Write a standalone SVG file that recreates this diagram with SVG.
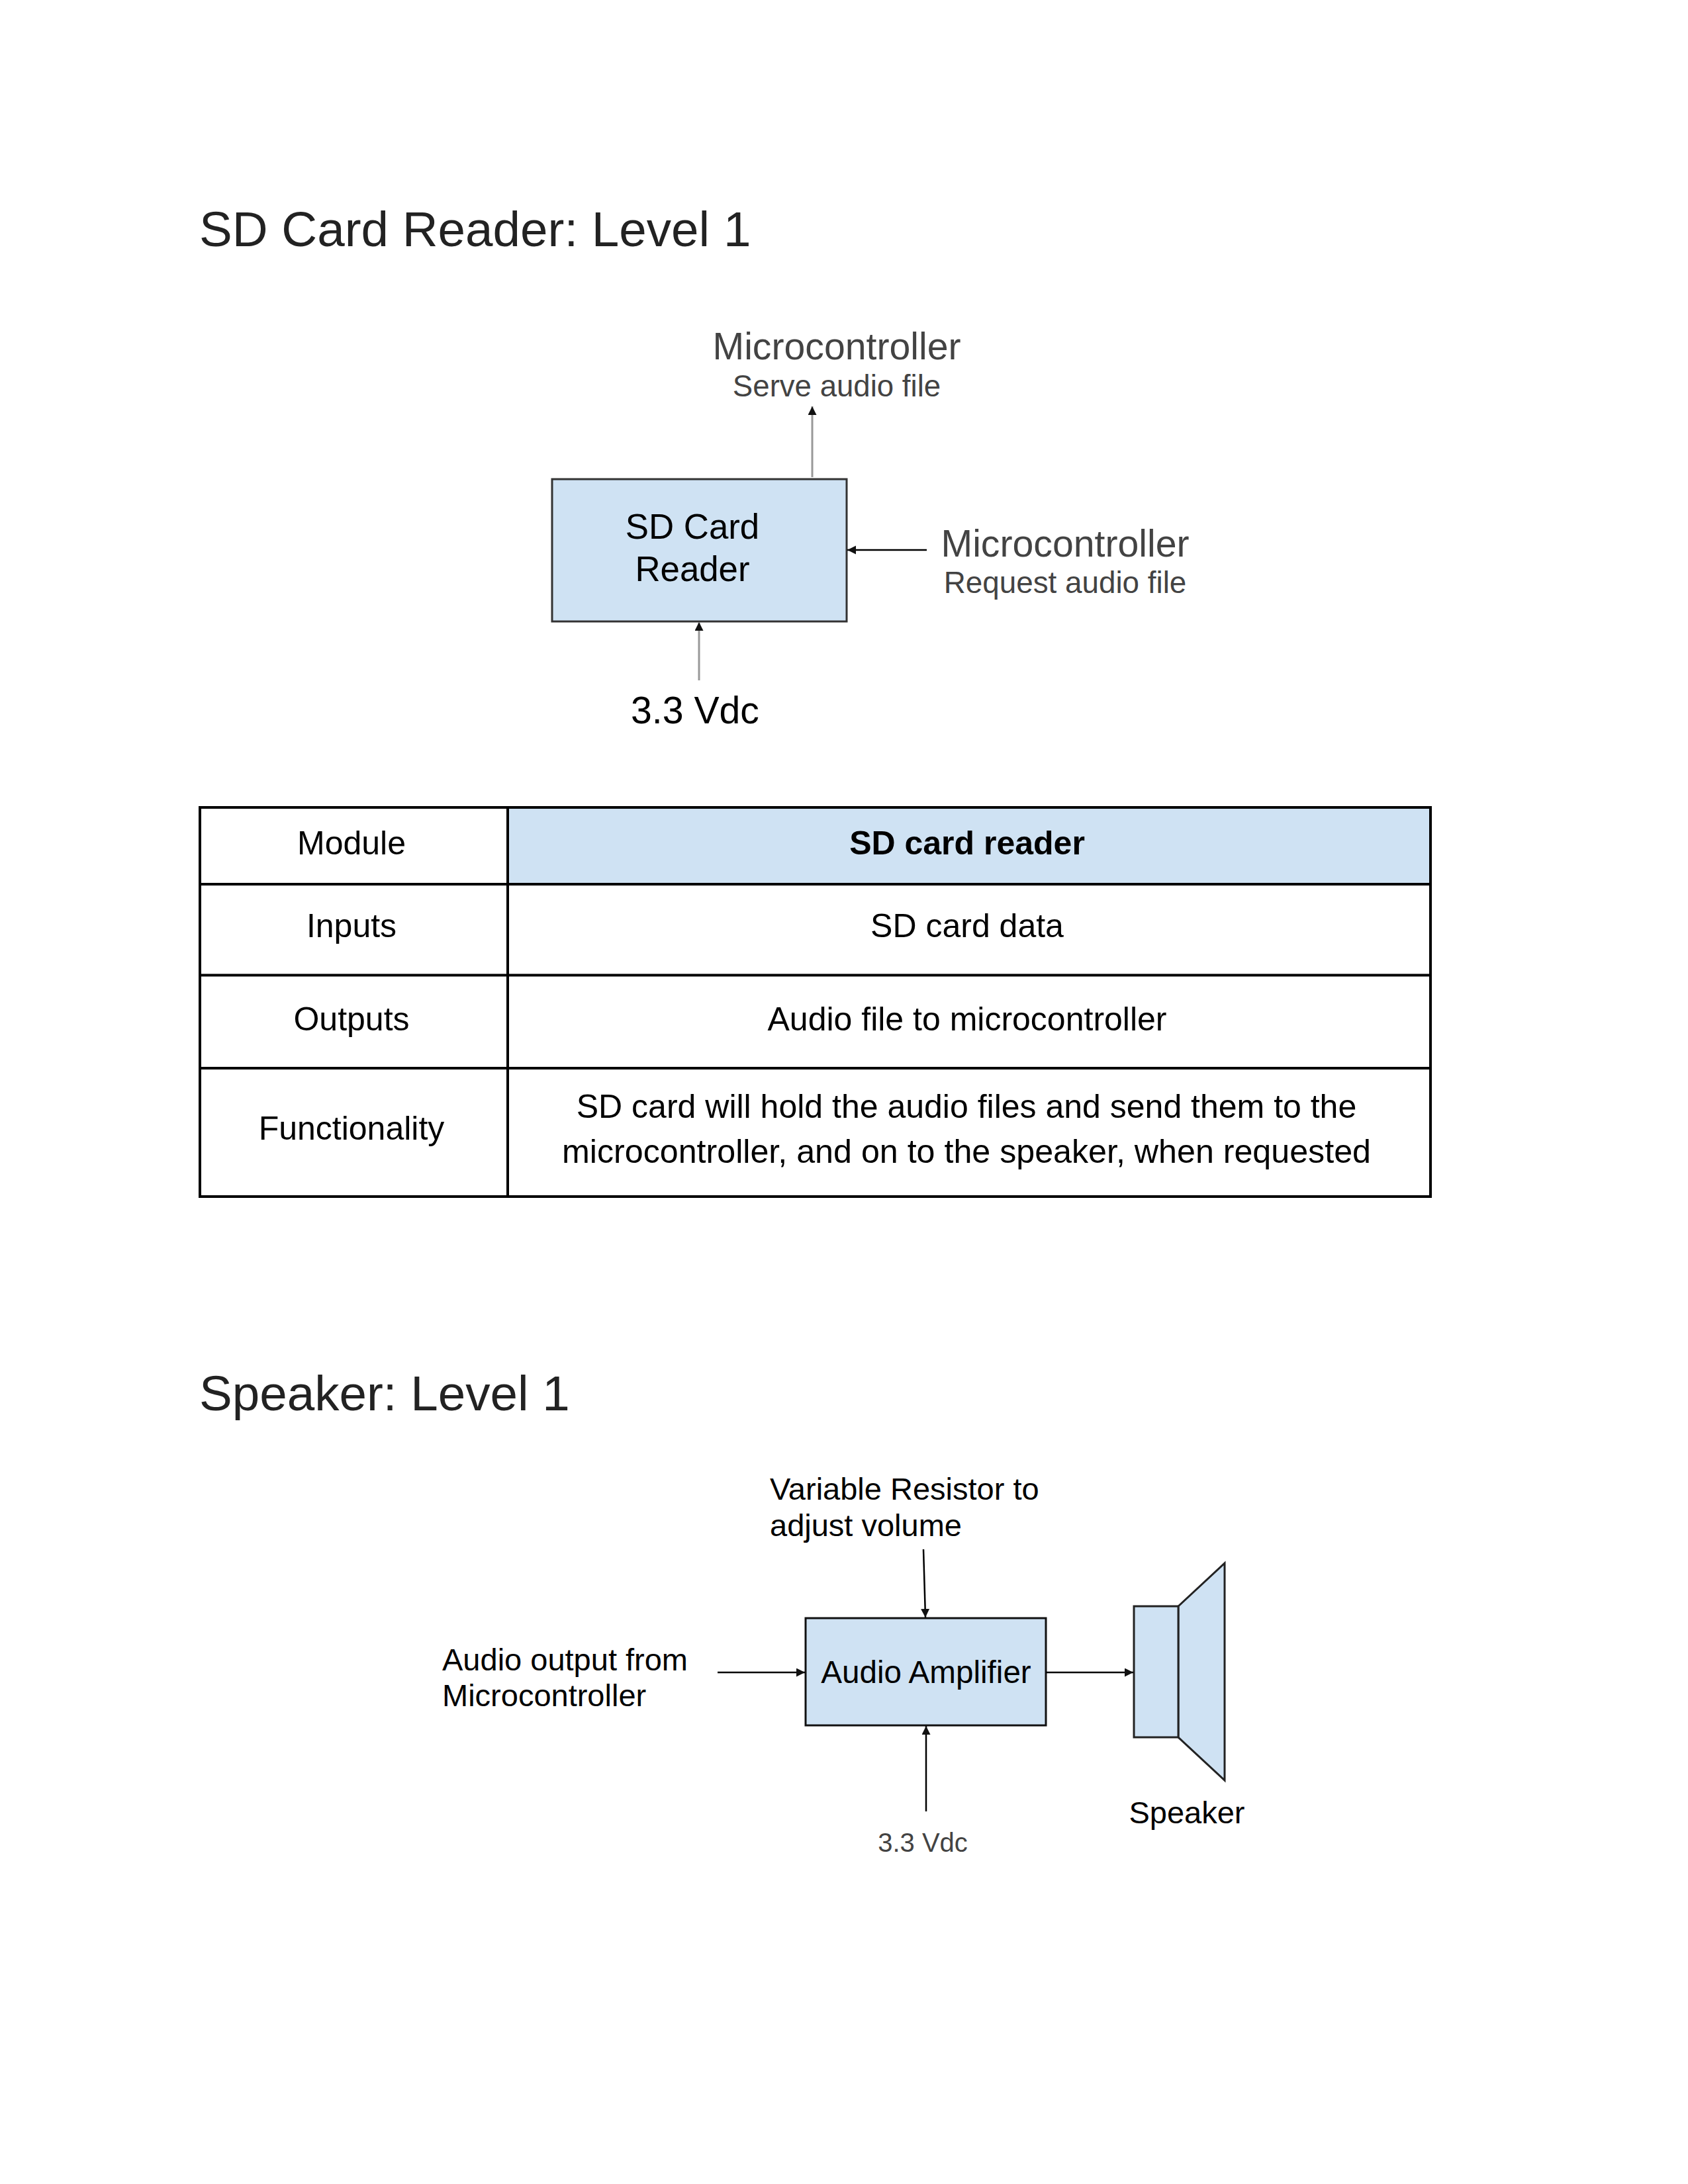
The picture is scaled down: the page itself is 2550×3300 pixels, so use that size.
<svg xmlns="http://www.w3.org/2000/svg" width="2550" height="3300" viewBox="0 0 2550 3300">
<style>
text{font-family:"Liberation Sans",Arial,sans-serif;fill:#000}
.t{font-size:74.600px;fill:#222}
.c{font-size:50px;text-anchor:middle}
.d{font-size:47px}
.g{fill:#434343}
.m{text-anchor:middle}
.box{fill:#cfe2f3;stroke:#333;stroke-width:3}
.tb{stroke:#000;stroke-width:4;fill:none}
.a{stroke:#000;stroke-width:2.5;fill:none;marker-end:url(#ah)}
.ag{stroke:#999;stroke-width:3;fill:none;marker-end:url(#ah)}
</style>
<defs><marker id="ah" markerUnits="userSpaceOnUse" markerWidth="14" markerHeight="14" refX="13" refY="6.5" orient="auto"><path d="M0 0L13 6.500L0 13Z" fill="#111"/></marker></defs>
<rect width="2550" height="3300" fill="#fff"/>
<text class="t" x="301" y="372">SD Card Reader: Level 1</text>
<text class="t" x="301" y="2131">Speaker: Level 1</text>
<g id="sd-card-reader"><rect class="box" x="834" y="724" width="445" height="215"/>
<text class="m" font-size="52.800" x="1046" y="814">SD Card</text><text class="m" font-size="52.800" x="1046" y="878">Reader</text></g>
<g id="mcu-serve"><text class="m g" font-size="57.200" x="1264" y="543">Microcontroller</text><text class="m g" font-size="45.600" x="1264" y="599">Serve audio file</text></g>
<g id="mcu-request"><text class="m g" font-size="57.200" x="1609" y="841">Microcontroller</text><text class="m g" font-size="45.800" x="1609" y="896">Request audio file</text></g>
<g id="vdc-1"><text class="m" font-size="57.200" x="1050" y="1093">3.3 Vdc</text></g>
<g id="table">
<rect x="767" y="1220" width="1394" height="116" fill="#cfe2f3"/>
<path class="tb" d="M302 1220H2161V1808H302ZM767 1220V1808M302 1336H2161M302 1473.500H2161M302 1614H2161"/>
<text class="c" x="531" y="1291">Module</text>
<text class="c" x="1461" y="1291" font-weight="700">SD card reader</text>
<text class="c" x="531" y="1416">Inputs</text>
<text class="c" x="1461" y="1416">SD card data</text>
<text class="c" x="531" y="1557">Outputs</text>
<text class="c" x="1461" y="1557">Audio file to microcontroller</text>
<text class="c" x="531" y="1722">Functionality</text>
<text class="c" x="1460" y="1689">SD card will hold the audio files and send them to the</text>
<text class="c" x="1460" y="1757" style="font-size:50.200px">microcontroller, and on to the speaker, when requested</text>
</g>
<g id="audio-amplifier"><rect class="box" style="stroke:#111" x="1217" y="2445" width="363" height="162"/><text class="d m" style="font-size:47.600px" x="1399" y="2543">Audio Amplifier</text></g>
<g id="speaker">
<path class="box" style="stroke:#222" d="M1780 2427L1850 2362V2690L1780 2625Z"/>
<rect class="box" style="stroke:#222" x="1713" y="2427" width="67" height="198"/>
<text class="d m" x="1793" y="2755">Speaker</text></g>
<g id="var-resistor"><text class="d" x="1163" y="2266">Variable Resistor to</text><text class="d" x="1163" y="2321">adjust volume</text></g>
<g id="audio-out"><text class="d" x="668" y="2524">Audio output from</text><text class="d" x="668" y="2578">Microcontroller</text></g>
<g id="vdc-2"><text class="m g" font-size="40" x="1394" y="2798">3.3 Vdc</text></g>
<g id="connectors">
<path class="ag" d="M1227 721V614"/>
<path class="a" d="M1400 831H1280"/>
<path class="ag" d="M1056 1028V940"/>
<path class="a" d="M1395 2341L1398 2444"/>
<path class="a" d="M1084 2527H1216"/>
<path class="a" d="M1580 2527H1712"/>
<path class="a" d="M1399 2737V2608"/>
</g>
</svg>
